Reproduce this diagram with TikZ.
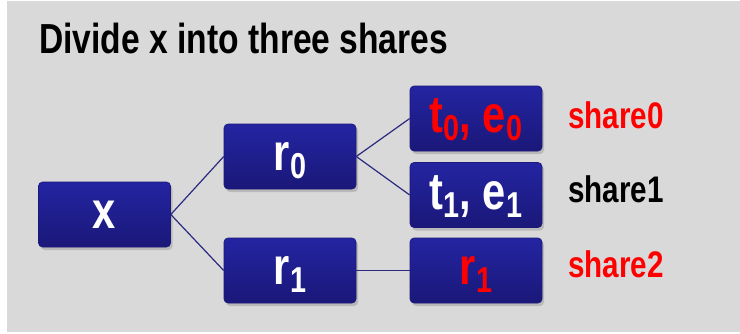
\documentclass[tikz,border=0pt]{standalone}
\usepackage{fontspec}
\setmainfont{Liberation Sans}[FakeStretch=0.8]
\usetikzlibrary{shadows}
\definecolor{bgray}{HTML}{D9D9D9}
\definecolor{boxtop}{HTML}{2424A2}
\definecolor{boxbot}{HTML}{1A1878}
\definecolor{wire}{HTML}{2A2A80}
\definecolor{sred}{HTML}{FF0000}
\newcommand{\idx}[1]{\raisebox{-8pt}{\fontsize{36}{36}\selectfont #1}}
\tikzset{
	sharebox/.style={rounded corners=4pt, draw=boxbot, line width=0.6pt,
		top color=boxtop, bottom color=boxbot,
		minimum width=132pt, minimum height=65pt, inner sep=0pt,
		text height=33pt, text depth=5pt,
		text=white, font=\fontsize{52}{52}\selectfont\bfseries,
		drop shadow={shadow xshift=2pt, shadow yshift=-3pt, opacity=0.35}},
	sharelabel/.style={anchor=base west, inner sep=0pt, font=\fontsize{37}{37}\selectfont\bfseries},
	wire/.style={draw=wire, line width=1.2pt}
}
\begin{document}
\begin{tikzpicture}[x=1pt, y=-1pt]
		\useasboundingbox (0,0) rectangle (740,333);
		\fill[bgray] (7,1) rectangle (740,332);
		\node[anchor=base west, inner sep=0pt, font=\fontsize{42}{42}\selectfont\bfseries] (title) at (39,53) {Divide x into three shares};
		% tree of shares
		\node[sharebox] (x) at (104.5,214.5) {x};
		\node[sharebox] (r0) at (290,156.5) {r\idx{0}};
		\node[sharebox] (r1) at (290,270.5) {r\idx{1}};
		\node[sharebox, text=sred] (te0) at (476,118.5) {t\idx{0}, e\idx{0}};
		\node[sharebox] (te1) at (476,195) {t\idx{1}, e\idx{1}};
		\node[sharebox, text=sred] (r1b) at (476,270.5) {r\idx{1}};
		\draw[wire] (x.east) -- (r0.west);
		\draw[wire] (x.east) -- (r1.west);
		\draw[wire] (r0.east) -- (te0.west);
		\draw[wire] (r0.east) -- (te1.west);
		\draw[wire] (r1.east) -- (r1b.west);
		% labels
		\node[sharelabel, text=sred] (s0) at (568,128) {share0};
		\node[sharelabel] (s1) at (568,202) {share1};
		\node[sharelabel, text=sred] (s2) at (568,277) {share2};
\end{tikzpicture}
\end{document}
